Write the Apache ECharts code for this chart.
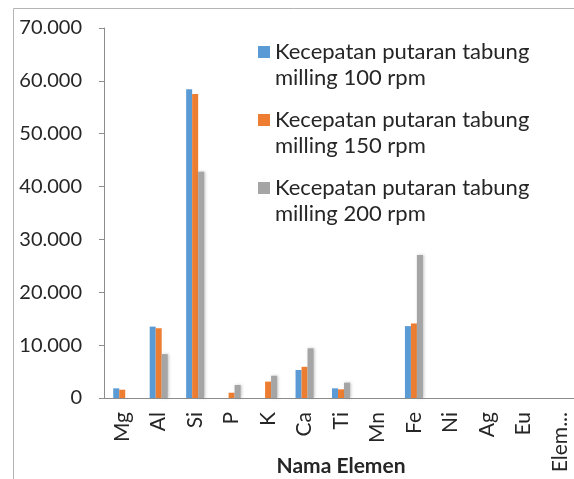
<!DOCTYPE html>
<html>
<head>
<meta charset="utf-8">
<script src="https://cdn.jsdelivr.net/npm/echarts@6/dist/echarts.min.js"></script>
<style>
  html, body { margin: 0; padding: 0; background: #fff; }
  #chart { width: 574px; height: 479px; }
</style>
</head>
<body>
<div id="chart"></div>
<script>
// Element composition per milling speed
const elements = ['Mg', 'Al', 'Si', 'P', 'K', 'Ca', 'Ti', 'Mn', 'Fe', 'Ni', 'Ag', 'Eu', 'Elem...'];
const rpm100 = [1.83, 13.5, 58.4, 0, 0, 5.3, 1.83, 0, 13.6, 0, 0, 0, 0];
const rpm150 = [1.57, 13.2, 57.5, 1.0, 3.1, 5.9, 1.64, 0, 14.1, 0, 0, 0, 0];
const rpm200 = [0, 8.3, 42.8, 2.46, 4.2, 9.4, 2.9, 0, 27.05, 0, 0, 0, 0];
const seriesNames = [
  'Kecepatan putaran tabung milling 100 rpm',
  'Kecepatan putaran tabung milling 150 rpm',
  'Kecepatan putaran tabung milling 200 rpm'
];
const yTicks = [0, 10, 20, 30, 40, 50, 60, 70];

const colors = ['#5b9bd5', '#ed7d31', '#a5a5a5'];
const font = 'Lato, "Open Sans", sans-serif';

const chart = echarts.init(document.getElementById('chart'));

function bar(name, data, color, soft) {
  const style = { color: color };
  if (soft) {
    style.shadowColor = 'rgba(120,120,120,0.45)';
    style.shadowBlur = 3;
    style.shadowOffsetX = 1;
  }
  return {
    name: name,
    type: 'bar',
    data: data,
    barWidth: 6,
    barGap: '0%',
    itemStyle: style,
    emphasis: { disabled: true }
  };
}

chart.setOption({
  animation: false,
  backgroundColor: '#fff',
  color: colors,
  textStyle: { fontFamily: font },
  graphic: [
    { type: 'line', shape: { x1: 13.5, y1: 8.5, x2: 574, y2: 8.5 }, style: { stroke: '#b4b4b4', lineWidth: 1 } },
    { type: 'line', shape: { x1: 13.5, y1: 8.5, x2: 13.5, y2: 479 }, style: { stroke: '#b4b4b4', lineWidth: 1 } }
  ],
  legend: {
    orient: 'vertical',
    left: 253,
    top: 8,
    itemWidth: 12,
    itemHeight: 12,
    itemGap: -10,
    textGap: 8,
    icon: 'rect',
    data: seriesNames,
    // an empty leading line keeps the swatch level with the first text line
    formatter: function (n) { return '\n' + n.replace(' milling', '\nmilling'); },
    textStyle: {
      fontFamily: font,
      fontSize: 22,
      color: '#262626',
      lineHeight: 26
    }
  },
  grid: { left: 104, right: -4, top: 28, bottom: 81, outerBoundsMode: 'none' },
  xAxis: {
    type: 'category',
    data: elements,
    name: 'Nama Elemen',
    nameLocation: 'middle',
    nameGap: 58,
    nameMoveOverlap: false,
    nameTextStyle: { fontFamily: font, fontSize: 21, fontWeight: 'bold', color: '#262626' },
    axisLine: { lineStyle: { color: '#8c8c8c', width: 1 } },
    axisTick: { show: false },
    axisLabel: { rotate: 90, margin: 14, fontSize: 21, color: '#262626', fontFamily: font, interval: 0 }
  },
  yAxis: {
    type: 'value',
    min: yTicks[0],
    max: yTicks[yTicks.length - 1],
    interval: 10,
    splitLine: { show: false },
    axisLine: { show: true, lineStyle: { color: '#8c8c8c', width: 1 } },
    axisTick: { show: true, length: 5, lineStyle: { color: '#8c8c8c' } },
    axisLabel: {
      margin: 22,
      fontSize: 20,
      color: '#262626',
      fontFamily: font,
      formatter: function (v) { return v === 0 ? '0' : v.toFixed(3); }
    }
  },
  series: [
    bar(seriesNames[0], rpm100, colors[0], false),
    bar(seriesNames[1], rpm150, colors[1], false),
    bar(seriesNames[2], rpm200, colors[2], true)
  ]
});
</script>
</body>
</html>
